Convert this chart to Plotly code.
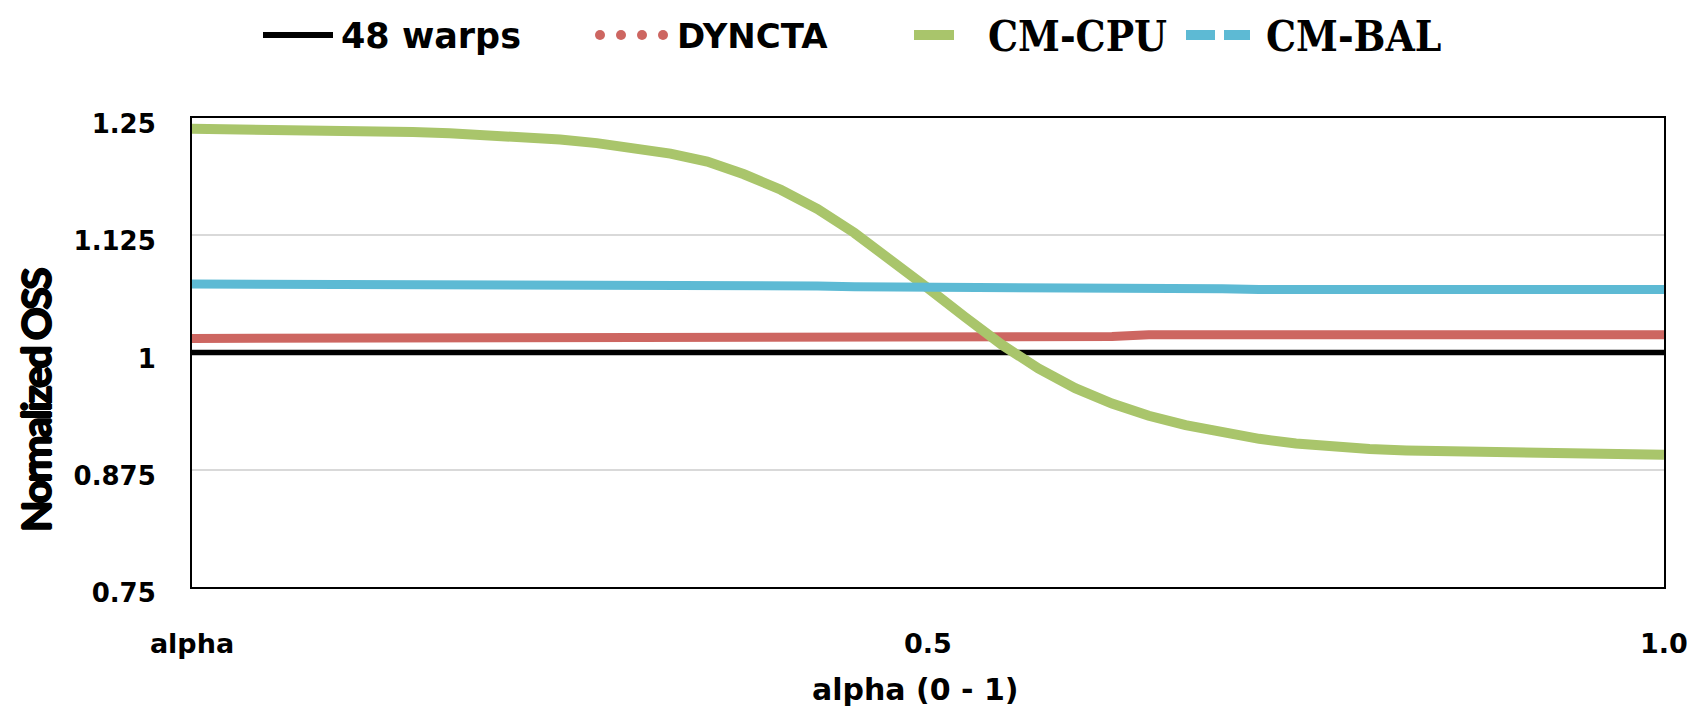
import plotly.graph_objects as go

# ---- data -------------------------------------------------------------
alpha = [0.000, 0.025, 0.050, 0.075, 0.100, 0.125, 0.150, 0.175, 0.200, 0.225,
         0.250, 0.275, 0.300, 0.325, 0.350, 0.375, 0.400, 0.425, 0.450, 0.475,
         0.500, 0.525, 0.550, 0.575, 0.600, 0.625, 0.650, 0.675, 0.700, 0.725,
         0.750, 0.775, 0.800, 0.825, 0.850, 0.875, 0.900, 0.925, 0.950, 0.975,
         1.000]

warps48 = [1.0] * 41

dyncta = ([1.015] * 14 + [1.016] * 4 + [1.017] * 8 + [1.019] * 15)

cm_cpu = [1.2385, 1.2383, 1.2380, 1.2375, 1.2368, 1.2360, 1.2350, 1.2337, 1.2320, 1.2298,
          1.2270, 1.2232, 1.2183, 1.2120, 1.2035, 1.1900, 1.1735, 1.1530, 1.1275, 1.0990,
          1.0685, 1.0380, 1.0085, 0.9830, 0.9620, 0.9455, 0.9325, 0.9225, 0.9145, 0.9080,
          0.9030, 0.8995, 0.8970, 0.8955, 0.8945, 0.8935, 0.8927, 0.8921, 0.8916, 0.8912,
          0.8910]

cm_bal = ([1.0730] * 11 + [1.0720] * 5 + [1.0710] * 2 + [1.0700] * 4 +
          [1.0690] * 2 + [1.0680] * 5 + [1.0672] * 12)

series_names = ["48 warps", "DYNCTA", "CM-CPU", "CM-BAL"]
series_colors = ["#000000", "#CD6661", "#A9C56B", "#5DBAD4"]
series_widths = [5.5, 9, 10, 9]

x_tickvals = [0, 0.5, 1.0]
x_ticktext = ["alpha", "0.5", "1.0"]
y_tickvals = [0.75, 0.875, 1.0, 1.125, 1.25]
y_ticktext = ["0.75", "0.875", "1", "1.125", "1.25"]

# ---- geometry of the plotting area (pixels) ---------------------------
FIG_W, FIG_H = 1687, 714
L, R, T, B = 192, 23, 118, 127
PW, PH = FIG_W - L - R, FIG_H - T - B


def px(x):
    return (x - L) / PW


def py(y):
    return (FIG_H - B - y) / PH


SANS = "DejaVu Sans"
SERIF = "DejaVu Serif Condensed"

fig = go.Figure()
for name, ys, color, width in zip(series_names, [warps48, dyncta, cm_cpu, cm_bal],
                                  series_colors, series_widths):
    fig.add_trace(go.Scatter(
        x=alpha, y=ys, name=name, mode="lines",
        line=dict(color=color, width=width),
        showlegend=False,
    ))

# ---- legend drawn above the plot ---------------------------------------
LEG_Y = 35
shapes = []
# 48 warps: solid black
shapes.append(dict(type="line", xref="paper", yref="paper",
                   x0=px(263), x1=px(333), y0=py(LEG_Y), y1=py(LEG_Y),
                   line=dict(color=series_colors[0], width=6)))
# DYNCTA: round dots
for cx in [600, 621, 642, 663]:
    shapes.append(dict(type="circle", xref="paper", yref="paper",
                       x0=px(cx - 5), x1=px(cx + 5), y0=py(LEG_Y + 5), y1=py(LEG_Y - 5),
                       fillcolor=series_colors[1], line=dict(width=0)))
# CM-CPU: short thick solid
shapes.append(dict(type="line", xref="paper", yref="paper",
                   x0=px(914), x1=px(954), y0=py(LEG_Y), y1=py(LEG_Y),
                   line=dict(color=series_colors[2], width=10)))
# CM-BAL: two dashes
for a, b in [(1186, 1215), (1224, 1250)]:
    shapes.append(dict(type="line", xref="paper", yref="paper",
                       x0=px(a), x1=px(b), y0=py(LEG_Y), y1=py(LEG_Y),
                       line=dict(color=series_colors[3], width=10)))

annotations = []
for text, x0, fam, size in [("48 warps", 339, SANS, 35), ("DYNCTA", 675, SANS, 34),
                            ("CM-CPU", 986, SERIF, 42), ("CM-BAL", 1264, SERIF, 42)]:
    annotations.append(dict(text=f"<b>{text}</b>", xref="paper", yref="paper",
                            x=px(x0), y=py(36), xanchor="left", yanchor="middle",
                            showarrow=False,
                            font=dict(family=fam, size=size, color="#000000")))

# axis titles (y title is set tight and heavy)
annotations.append(dict(text='<span style="letter-spacing:-2.5px"><b>Normalized OSS</b></span>',
                        xref="paper", yref="paper",
                        x=px(35), y=py(401), xanchor="center", yanchor="middle",
                        textangle=-90, showarrow=False,
                        font=dict(family="Lato", size=41, color="#000000",
                                  shadow="1px 0 0 #000, -1px 0 0 #000, "
                                         "0 1px 0 #000, 0 -1px 0 #000")))
annotations.append(dict(text="<b>alpha (0 - 1)</b>", xref="paper", yref="paper",
                        x=px(915), y=py(689), xanchor="center", yanchor="middle",
                        showarrow=False,
                        font=dict(family=SANS, size=30, color="#000000")))

fig.update_layout(
    width=FIG_W, height=FIG_H,
    margin=dict(l=L, r=R, t=T, b=B, pad=0, autoexpand=False),
    paper_bgcolor="#FFFFFF", plot_bgcolor="#FFFFFF",
    shapes=shapes, annotations=annotations,
    showlegend=False,
)

fig.update_xaxes(
    range=[0, 1], tickvals=x_tickvals, ticktext=x_ticktext,
    showgrid=False, zeroline=False, ticks="", automargin=False,
    showline=True, linecolor="#000000", linewidth=2, mirror=True,
    tickfont=dict(family=SANS, size=27, color="#000000", weight="bold"),
    ticklabelstandoff=32, ticklabeloverflow="allow",
)
fig.update_yaxes(
    range=[0.75, 1.25], tickvals=y_tickvals, ticktext=y_ticktext,
    showgrid=True, gridcolor="#D9D9D9", gridwidth=2, zeroline=False, ticks="",
    automargin=False,
    showline=True, linecolor="#000000", linewidth=2, mirror=True,
    tickfont=dict(family=SANS, size=26, color="#000000", weight="bold"),
    ticklabelstandoff=29, ticklabelshift=6,
)

fig.write_html("out.html")
